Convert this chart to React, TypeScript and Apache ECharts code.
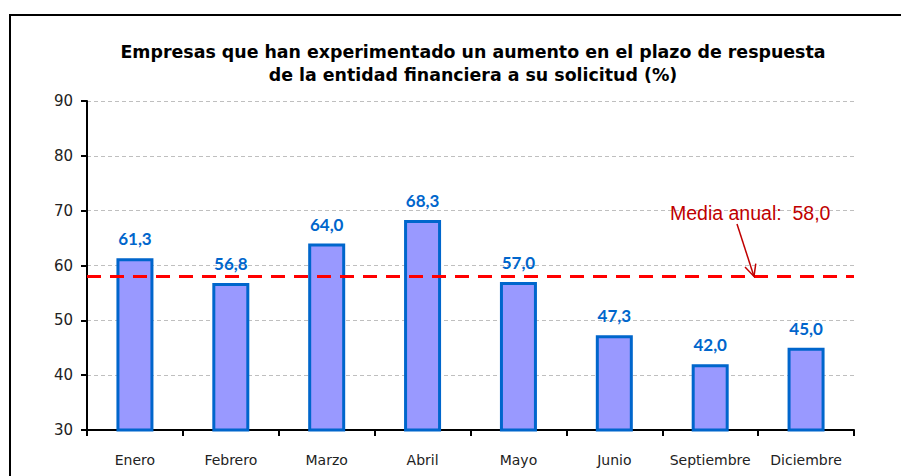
import React, { useEffect, useRef } from "react";
import * as echarts from "echarts";

const categories = ["Enero", "Febrero", "Marzo", "Abril", "Mayo", "Junio", "Septiembre", "Diciembre"];
const values = [61.3, 56.8, 64.0, 68.3, 57.0, 47.3, 42.0, 45.0];
const annualMean = 58.0;
const titleText = "Empresas que han experimentado un aumento en el plazo de respuesta\nde la entidad financiera a su solicitud (%)";
const meanLabel = "Media anual:  58,0";

export default function App() {
  const ref = useRef<HTMLDivElement>(null);
  useEffect(() => {
    const chart = echarts.init(ref.current!, null, { renderer: "svg" });
    const option: any = {
      animation: false,
      backgroundColor: "#ffffff",
      title: {
        text: titleText,
        left: 468,
        textAlign: "center",
        top: 35,
        textStyle: { fontFamily: "DejaVu Sans", fontWeight: "bold", fontSize: 17.4, lineHeight: 23, color: "#000" },
      },
      grid: { left: 87, right: 47, top: 101, bottom: 46 },
      xAxis: {
        type: "category",
        data: categories,
        axisLine: { lineStyle: { color: "#000", width: 2 } },
        axisTick: { show: true, length: 6, lineStyle: { color: "#000", width: 2 } },
        axisLabel: { color: "#222", fontFamily: "DejaVu Sans", fontSize: 14, margin: 23, interval: 0 },
      },
      yAxis: {
        type: "value",
        min: 30,
        max: 90,
        interval: 10,
        axisLine: { show: true, lineStyle: { color: "#000", width: 2 } },
        axisTick: { show: true, length: 6, lineStyle: { color: "#000", width: 2 } },
        axisLabel: { color: "#222", fontFamily: "DejaVu Sans", fontSize: 15, margin: 14 },
        splitLine: { lineStyle: { color: "#bfbfbf", type: [4, 3], width: 1 } },
      },
      series: [
        {
          type: "bar",
          data: values,
          barWidth: 37,
          itemStyle: { color: "#9999ff", borderColor: "#0066cc", borderWidth: 3 },
          label: {
            show: true,
            position: "top",
            distance: 11,
            color: "#0066cc",
            fontFamily: "Lato",
            fontWeight: "bold",
            fontSize: 17,
            formatter: (p: any) => p.value.toFixed(1).replace(".", ","),
          },
          markLine: {
            silent: true,
            symbol: "none",
            label: { show: false },
            lineStyle: { color: "#ff0000", type: [14, 9], width: 3 },
            data: [{ yAxis: annualMean }],
          },
          z: 2,
        },
      ],
    };
    chart.setOption(option);
    const yMean = chart.convertToPixel({ yAxisIndex: 0 }, annualMean) as number;
    const ax = 754, ay = yMean;
    const sx = 737, sy = 224;
    const ang = Math.atan2(ay - sy, ax - sx);
    const hl = 13, ha = 0.45;
    chart.setOption({
      graphic: [
        {
          type: "rect",
          shape: { x: 10, y: 15, width: 900, height: 470 },
          style: { fill: "none", stroke: "#000", lineWidth: 2 },
          z: 0,
        },
        {
          type: "text",
          x: 670,
          y: 213,
          style: { text: meanLabel, fill: "#c00000", font: "19.5px 'Liberation Sans'", textVerticalAlign: "middle" },
          z: 10,
        },
        {
          type: "line",
          shape: { x1: sx, y1: sy, x2: ax, y2: ay },
          style: { stroke: "#c00000", lineWidth: 1.5 },
          z: 10,
        },
        {
          type: "polyline",
          shape: {
            points: [
              [ax - hl * Math.cos(ang - ha), ay - hl * Math.sin(ang - ha)],
              [ax, ay],
              [ax - hl * Math.cos(ang + ha), ay - hl * Math.sin(ang + ha)],
            ],
          },
          style: { stroke: "#c00000", lineWidth: 1.5, fill: "none" },
          z: 10,
        },
      ],
    });
    return () => chart.dispose();
  }, []);
  return <div ref={ref} style={{ position: "fixed", left: 0, top: 0, width: 901, height: 476 }} />;
}
